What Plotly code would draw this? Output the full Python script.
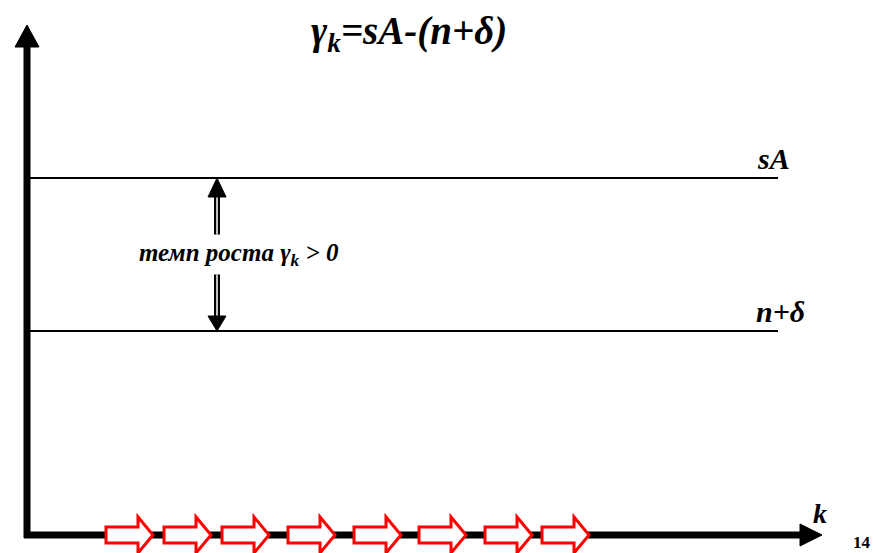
import plotly.graph_objects as go

# levels of the two horizontal lines (y units, origin at the axis corner)
levels = [357, 204]
level_labels = ["sA", "n+δ"]
line_end = 751

# axis extents
x_axis_end = 795
y_axis_end = 510

# gap arrow between the lines
gap_x = 190
gap_label = "темп роста γ<sub>k</sub> &gt; 0"

# start positions of the red hollow arrows along k
red_arrow_starts = [79, 137, 195, 261, 327, 392, 458, 515]
red_arrow_len = 47

title_text = "γ<sub>k</sub>=sA-(n+δ)"
page_number = "14"

FONT = "Liberation Serif, Times New Roman, serif"

fig = go.Figure()
shapes = []

# axes
shapes.append(dict(type="line", x0=0, y0=-3, x1=0, y1=y_axis_end - 20,
                   line=dict(color="black", width=7)))
shapes.append(dict(type="line", x0=-3, y0=0, x1=x_axis_end - 20, y1=0,
                   line=dict(color="black", width=7)))
# arrow heads of axes
shapes.append(dict(type="path",
                   path=f"M {-12} {y_axis_end - 22} L 0 {y_axis_end} L 12 {y_axis_end - 22} Z",
                   fillcolor="black", line=dict(color="black", width=1)))
shapes.append(dict(type="path",
                   path=f"M {x_axis_end - 22} {-11} L {x_axis_end} 0 L {x_axis_end - 22} 11 Z",
                   fillcolor="black", line=dict(color="black", width=1)))

# horizontal lines
for lv in levels:
    shapes.append(dict(type="line", x0=0, y0=lv, x1=line_end, y1=lv,
                       line=dict(color="black", width=2)))

# gap double arrow
top, bot = levels
mid = (top + bot) / 2
for tip, start, head in [(top, mid + 20, 19), (bot, mid - 20, 15)]:
    d = 1 if tip > start else -1
    base = tip - d * head
    shapes.append(dict(type="line", x0=gap_x, y0=start, x1=gap_x, y1=base,
                       line=dict(color="black", width=6)))
    shapes.append(dict(type="line", x0=gap_x, y0=start, x1=gap_x, y1=base,
                       line=dict(color="white", width=1.5)))
    shapes.append(dict(type="path",
                       path=f"M {gap_x - 9} {base} L {gap_x} {tip} L {gap_x + 9} {base} Z",
                       fillcolor="black", line=dict(color="black", width=1)))

# red hollow arrows along the k axis
for s in red_arrow_starts:
    e = s + red_arrow_len
    h = e - 15
    p = (f"M {s} -8 L {h} -8 L {h} -18 L {e} 0 L {h} 18 L {h} 8 L {s} 8 Z")
    shapes.append(dict(type="path", path=p, fillcolor="white",
                       line=dict(color="red", width=3)))

annotations = [
    dict(x=382, y=502, text=f"<b><i>{title_text}</i></b>", showarrow=False,
         font=dict(family=FONT, size=39, color="black")),
    dict(x=gap_x + 22, y=mid, text=f"<b><i>{gap_label}</i></b>", showarrow=False,
         font=dict(family=FONT, size=25, color="black"), bgcolor="white"),
    dict(x=793, y=22, text="<b><i>k</i></b>", showarrow=False,
         font=dict(family=FONT, size=28, color="black")),
    dict(x=835, y=-7, text=f"<b>{page_number}</b>", showarrow=False,
         font=dict(family=FONT, size=17, color="black")),
]
for lv, lab, dx in zip(levels, level_labels, [746, 753]):
    annotations.append(dict(x=dx, y=lv + 20, text=f"<b><i>{lab}</i></b>", showarrow=False,
                            font=dict(family=FONT, size=30, color="black")))

fig.update_layout(
    width=874, height=553,
    margin=dict(l=0, r=0, t=0, b=0),
    plot_bgcolor="white", paper_bgcolor="white",
    xaxis=dict(range=[-27, 847], visible=False, fixedrange=True),
    yaxis=dict(range=[-18, 535], visible=False, fixedrange=True),
    shapes=shapes,
    annotations=annotations,
    showlegend=False,
)

# drop the default page margin so the figure fills the window
fig.write_html("out.html", config={"displayModeBar": False},
               post_script="document.body.style.margin='0';document.body.style.overflow='hidden';")
